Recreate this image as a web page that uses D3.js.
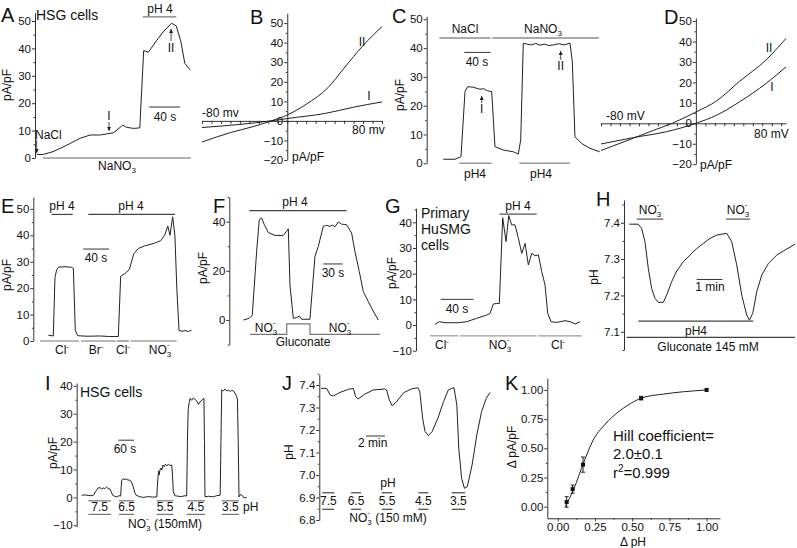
<!DOCTYPE html>
<html>
<head>
<meta charset="utf-8">
<script src="https://cdn.jsdelivr.net/npm/d3@7"></script>
<style>
  body { margin: 0; background: #fff; }
  text { font-family: "Liberation Sans", Arial, sans-serif; fill: #111; }
  .tick text { font-size: 11.5px; }
  .tick line, .domain { stroke: #333; }
  .letter { font-size: 20px; }
</style>
</head>
<body>
<svg id="fig" width="797" height="548"></svg>
<script>
// ---- data ----
// A: whole-cell current (pA/pF) vs time (s)
var traceA = [[0,1.3],[8.5,1.3],[21,2.3],[39,4.7],[56,7.2],[69,8.4],[82,8.4],[99,9.2],[111,12],[116,11.2],[125,10.8],[133,11],
  [138,39.2],[144,38.6],[155,43],[163,46],[174,49.2],[180,48.2],[186,42.5],[191,34.6],[198,32.1]];
// B: I-V curves (mV, pA/pF)
var ivB1 = [[-90,-3.4],[-50,-1.8],[-17,0],[0,1.2],[40,3.8],[70,7],[100,9.7]];
var ivB2 = [[-90,-10.8],[-60,-6],[-35,-2.8],[-17,0],[0,3],[20,8.5],[43,17],[60,27],[80,38.5],[100,48.2]];
// C
var traceC = [[0,1.4],[17.7,1.4],[26.8,2.3],[32.9,24.9],[37,26.6],[45.5,26.4],[55.6,25.7],[61,25.9],[66.7,25.2],[73.3,24.9],
  [78.3,5.8],[90.9,4.6],[106,4.0],[113.6,3.2],[117.3,8.1],[121.2,41.7],[126.4,41.4],[134,41.1],[140,41.6],[146.5,41],[153,41.4],
  [160,40.9],[166.7,41.1],[175,41.5],[183,41.1],[192,41.7],[195.5,35.3],[199.5,9.2],[209.7,6.9],[222.3,5.2],[237,4.0]];
// D
var ivD1 = [[-100,-10.1],[-66,-7],[-31,-4.1],[0,0],[22,4],[46,10.5],[74,19.5],[95,27.6]];
var ivD2 = [[-100,-13.3],[-66,-7.3],[-45,-3.5],[-25,0],[0,5.5],[22,11],[46,20.5],[74,31],[95,41.5]];
// E
var traceE = [[0,2.2],[7.8,1.9],[10.4,24],[13,27],[16,28],[26,28.1],[36,27.9],[39,27.5],[42,4],[46,2],[60,1.8],[80,1.9],[95,1.7],[109,1.7],
  [112.6,24.5],[119,25.5],[126,27],[133,33],[140,35],[150,36],[165,37],[175,38],[181,40],[186,43.5],[189.4,40],[193.5,47],[197,40],
  [200,20],[203.4,4],[208,3.7],[213,3.9],[218,3.6],[223,4.1]];
// F
var traceF = [[0,0],[9.3,0.7],[13.9,2],[20.6,27.9],[24.7,40.8],[28.3,41.5],[32.5,38.8],[38.6,35.6],[49,34.4],[61.8,34.4],[67,36.1],[69.6,37.1],
  [72.1,14.3],[77.3,0.7],[82.4,1],[86.6,1.6],[90.2,0.3],[103,0.3],[110.8,25.9],[115.9,29.9],[123.6,38.1],[128.8,38.5],[134,38.1],[138.1,38.6],
  [141.7,37.9],[146.8,39.9],[152,39],[159.7,38.8],[167.4,35.4],[172.6,27.9],[179.3,19.7],[185.5,11.6],[193.2,7.5],[199.9,4.1],[208.7,0]];
// G
var traceG = [[0,0.3],[5.3,1.3],[12.2,0.9],[28.6,0.9],[38.8,1.3],[51,2.6],[63.2,3.9],[67.3,4.5],[71.4,8.2],[75.5,8.4],[78.7,8.4],
  [82.8,41.8],[86.9,32.5],[90.2,42.6],[93.8,39],[97.9,39],[102,33.8],[106.1,27.9],[110.2,31.8],[114.2,23.4],[118.3,27.9],[122.4,27],
  [126.5,27.3],[130.6,20.8],[134.6,15.6],[137.9,4.5],[142,1.3],[148.9,1],[159.1,1.7],[165.2,1.3],[171.4,0.4],[177.5,1.3]];
// H: intracellular pH vs time (s)
var traceH = [[0,7.396],[21,7.396],[28.8,7.384],[36.6,7.348],[44.4,7.274],[52.2,7.219],[60,7.192],[67.8,7.181],[79.4,7.181],[87.2,7.201],
  [98.9,7.238],[110.6,7.267],[126.2,7.293],[141.7,7.311],[157.3,7.329],[172.9,7.343],[188.5,7.357],[204,7.366],[227.4,7.371],[239.1,7.348],
  [250.8,7.284],[262.5,7.201],[274.1,7.146],[280.4,7.132],[288.2,7.151],[297.5,7.21],[309.2,7.256],[324.8,7.288],[344.2,7.311],
  [363.7,7.325],[387.1,7.341]];
// I
var traceI = [[0,0.8],[12,0.9],[25,0.7],[40,0.6],[47,1],[52,2],[57,2.6],[63,3.4],[70,3.5],[76,3.0],[82,3.4],[88,3.1],[95,3.7],[101,3.2],
  [108,3.0],[113,2],[118,0.8],[126,0.4],[134,0.2],[142,0.6],[149,0.5],[151,4],[153,6.2],[158,6.7],[164,6.4],[170,6.6],[177,6.2],[184,6.2],
  [190,5.5],[197,3.8],[203,1.6],[208,0.8],[220,0.3],[236,0],[255,0.3],[270,0.1],[287,0.2],[289,4],[291,6.8],[294,9.5],[296,8],[299,9.8],
  [303,10.5],[306,9.8],[310,11.6],[315,11],[320,11.9],[326,11.3],[331,11.9],[337,11.4],[344,11.6],[347,8],[350,2],[356,0.6],[363,0.5],
  [380,0.3],[395,0.6],[401,0.5],[404,20],[407,31.9],[411,34],[414,35.5],[420,34.8],[426,35.6],[433,35.1],[440,34.5],[446,33.3],[452,34.2],
  [459,34.9],[464,35.2],[467,35.5],[469,20],[471,0.2],[485,0.4],[503,0.2],[515,0.6],[529,0.8],[532,20],[535,38.5],[541,38.2],[548,38.8],
  [555,38.1],[561,38.5],[567,37.9],[573,38.4],[580,38.1],[587,37.2],[592,36.2],[595,34.9],[598,20],[601,0.2],[606,1],[612,0.8],[620,-0.2],[630,0]];
var pHLabels = ["7.5", "6.5", "5.5", "4.5", "3.5"];
var barsI = [[25.2,112],[142.5,201],[286.6,350],[401.2,471.2],[535,601]];
// J: pH vs time (min)
var traceJ = [[0,7.385],[0.6,7.385],[0.95,7.356],[1.3,7.351],[2,7.367],[2.9,7.381],[3.4,7.385],[3.65,7.348],[3.9,7.338],[4.6,7.359],
  [5.5,7.378],[6.7,7.382],[6.9,7.378],[7.2,7.333],[7.5,7.307],[7.96,7.326],[8.7,7.366],[9.5,7.382],[10.2,7.388],[10.4,7.37],[10.7,7.252],
  [10.95,7.193],[11.3,7.175],[11.7,7.193],[12.3,7.252],[12.9,7.326],[13.4,7.378],[13.75,7.385],[14,7.388],[14.3,7.311],[14.5,7.119],
  [14.8,6.985],[15.1,6.941],[15.4,6.948],[15.9,7.044],[16.4,7.178],[16.9,7.281],[17.4,7.341],[17.8,7.367]];
var barsJ = [[0.14,1.4],[3.16,4.21],[6.39,7.51],[10.24,11.29],[13.76,15.16]];
// K: dose response
var kDpH = [0.06, 0.10, 0.17, 0.56, 1.0];
var kResp = [0.04, 0.15, 0.36, 0.93, 1.0];
var kErr = [0.045, 0.035, 0.065, 0.015, 0];
var fitX = [0.05, 0.108, 0.175, 0.242, 0.309, 0.376, 0.466, 0.563, 0.712, 0.847, 1.0];
var fitY = [0, 0.151, 0.38, 0.58, 0.693, 0.779, 0.865, 0.931, 0.965, 0.985, 1.0];

// ---- drawing ----
var svg = d3.select("#fig");
svg.append("rect").attr("width", 797).attr("height", 548).attr("fill", "#fff");

svg.append("defs").append("marker")
  .attr("id", "ah").attr("viewBox", "0 -3 6 6").attr("refX", 6).attr("refY", 0)
  .attr("markerWidth", 5).attr("markerHeight", 5).attr("orient", "auto")
  .append("path").attr("d", "M0,-3L6,0L0,3Z").attr("fill", "#222");

function range(a, b, s) { return d3.range(a, b + s / 2, s).map(v => +v.toFixed(4)); }

function leftAxis(y, x, major, minor, fmt) {
  var g = svg.append("g").attr("transform", "translate(" + x + ",0)");
  g.call(d3.axisLeft(y).tickValues(major).tickSize(3).tickSizeOuter(0).tickPadding(1)
    .tickFormat(fmt || d3.format("d")));
  if (minor) {
    g.append("g").call(d3.axisLeft(y).tickValues(minor).tickSize(1.5).tickFormat(""))
      .select(".domain").remove();
  }
  return g;
}

function letter(s, x, y) {
  svg.append("text").attr("class", "letter").attr("x", x).attr("y", y).text(s);
}

function txt(x, y, s, size, anchor) {
  return svg.append("text").attr("x", x).attr("y", y)
    .attr("text-anchor", anchor || "middle").style("font-size", (size || 12) + "px").text(s);
}

function ylabel(x, y, s, size) {
  return svg.append("text").attr("transform", "translate(" + x + "," + y + ") rotate(-90)")
    .attr("text-anchor", "middle").style("font-size", (size || 12) + "px").text(s);
}

function hbar(xs, ys, t1, t2, v, color, w) {
  svg.append("line").attr("x1", xs(t1)).attr("x2", xs(t2)).attr("y1", ys(v)).attr("y2", ys(v))
    .attr("stroke", color || "#333").attr("stroke-width", w || 1);
}

function arrow(xs, ys, t, v1, v2) {
  svg.append("line").attr("x1", xs(t)).attr("x2", xs(t)).attr("y1", ys(v1)).attr("y2", ys(v2))
    .attr("stroke", "#222").attr("stroke-width", 0.8).attr("marker-end", "url(#ah)");
}

function trace(data, xs, ys, curve) {
  var line = d3.line().x(d => xs(d[0])).y(d => ys(d[1]));
  if (curve) line.curve(curve);
  svg.append("path").datum(data).attr("d", line)
    .attr("fill", "none").attr("stroke", "#222").attr("stroke-width", 1);
}

function no3(x, y, anchor, size, tail) {
  var t = svg.append("text").attr("x", x).attr("y", y).attr("text-anchor", anchor || "middle")
    .style("font-size", (size || 12) + "px").attr("xml:space", "preserve");
  t.append("tspan").text("NO");
  t.append("tspan").attr("dy", 3).style("font-size", "8px").text("3");
  t.append("tspan").attr("dx", -4.5).attr("dy", -10).style("font-size", "8px").text("-");
  if (tail) t.append("tspan").attr("dx", 2).attr("dy", 7).text(" " + tail);
  return t;
}

function cl(x, y, s) {
  var t = svg.append("text").attr("x", x).attr("y", y).attr("text-anchor", "middle").style("font-size", "12px");
  t.append("tspan").text(s);
  t.append("tspan").attr("dy", -5).style("font-size", "8px").text("-");
}

// ===== Panel A =====
var xA = d3.scaleLinear().domain([0, 198]).range([36.7, 190.2]);
var yA = d3.scaleLinear().domain([0, 53]).range([158, 12.8]);
leftAxis(yA, 35, range(0, 50, 10), range(5, 45, 10));
trace(traceA, xA, yA);
letter("A", 1, 22);
txt(36, 20, "HSG cells", 14, "start");
ylabel(11, 85, "pA/pF");
hbar(xA, yA, 8, 199, 0, "#999", 1.5);
var tNa = txt(117, 170, "NaNO", 12);
tNa.append("tspan").attr("dy", 3).style("font-size", "8px").text("3");
hbar(xA, yA, 137, 180, 51.5, "#777", 1.3);
txt(160, 13, "pH 4", 12);
hbar(xA, yA, 145, 185, 18.6, "#333", 1);
txt(165, 121, "40 s", 12);
txt(35, 139, "NaCl", 12, "start");
arrow(xA, yA, 0, 6.6, 1.8);
txt(109, 120, "I", 12);
arrow(xA, yA, 93.3, 13.1, 9.9);
txt(171, 52, "II", 12);
arrow(xA, yA, 173.3, 42.7, 47.1);

// ===== Panel B =====
var xB = d3.scaleLinear().domain([-90, 100]).range([202, 382]);
var yB = d3.scaleLinear().domain([-20, 55]).range([160, 13.3]);
leftAxis(yB, xB(0), range(-20, 50, 10), range(-15, 45, 10));
svg.append("g").attr("transform", "translate(0," + yB(0) + ")")
  .call(d3.axisBottom(xB).tickValues(range(-90, 100, 10)).tickSize(3).tickSizeOuter(0).tickFormat(""));
trace(ivB1, xB, yB, d3.curveMonotoneX);
trace(ivB2, xB, yB, d3.curveMonotoneX);
letter("B", 250, 24);
txt(202, 117, "-80 mv", 12, "start");
txt(352, 134, "80 mv", 12, "start");
txt(292, 161, "pA/pF", 12, "start");
txt(362, 46, "II", 12);
txt(369, 100, "I", 12);

// ===== Panel C =====
var xC = d3.scaleLinear().domain([0, 237]).range([443.3, 599.7]);
var yC = d3.scaleLinear().domain([0, 51]).range([163.3, 16.4]);
leftAxis(yC, 426.7, range(0, 50, 10), range(5, 45, 10));
trace(traceC, xC, yC);
letter("C", 392, 23);
ylabel(404, 95, "pA/pF");
hbar(xC, yC, -6, 71.8, 43.5, "#555", 1.2);
hbar(xC, yC, 74.2, 236, 43.5, "#555", 1.2);
txt(465, 33, "NaCl", 12);
var tC = txt(543, 33, "NaNO", 12);
tC.append("tspan").attr("dy", 3).style("font-size", "8px").text("3");
hbar(xC, yC, 24.2, 73.3, 0, "#999", 1.5);
hbar(xC, yC, 115.2, 192, 0, "#999", 1.5);
txt(475, 178, "pH4", 12);
txt(541, 178, "pH4", 12);
hbar(xC, yC, 31.8, 71.8, 38.5, "#333", 1);
txt(477, 66, "40 s", 12);
txt(481.7, 113, "I", 12);
arrow(xC, yC, 58.2, 20.9, 23.4);
txt(560.7, 70, "II", 12);
arrow(xC, yC, 177.9, 35.9, 39);

// ===== Panel D =====
var xD = d3.scaleLinear().domain([-100, 95]).range([601, 786]);
var yD = d3.scaleLinear().domain([-20, 51.5]).range([164.2, 18]);
leftAxis(yD, xD(0), range(-20, 50, 10), range(-15, 45, 10));
svg.append("g").attr("transform", "translate(0," + yD(0) + ")")
  .call(d3.axisBottom(xD).tickValues(range(-100, 90, 10)).tickSize(3).tickSizeOuter(0).tickFormat(""));
trace(ivD1, xD, yD, d3.curveMonotoneX);
trace(ivD2, xD, yD, d3.curveMonotoneX);
letter("D", 664, 24);
txt(606, 120, "-80 mV", 12, "start");
txt(754, 138, "80 mV", 12, "start");
txt(700, 169, "pA/pF", 12, "start");
txt(769, 52, "II", 12);
txt(772, 91, "I", 12);

// ===== Panel E =====
var xE = d3.scaleLinear().domain([0, 223]).range([48.3, 191.6]);
var yE = d3.scaleLinear().domain([0, 54.5]).range([341, 197]);
leftAxis(yE, 33.3, range(0, 50, 10), range(5, 45, 10));
trace(traceE, xE, yE);
letter("E", 1, 213);
ylabel(11, 275, "pA/pF");
hbar(xE, yE, 5.3, 38, 47.9, "#444", 1.2);
hbar(xE, yE, 62.3, 197.2, 47.9, "#444", 1.2);
txt(62, 210, "pH 4", 12);
txt(131, 210, "pH 4", 12);
hbar(xE, yE, 54.5, 94.5, 34.8, "#333", 1);
txt(96, 262, "40 s", 12);
[[-12.9, 47.8], [50.9, 104.9], [106.5, 125.6], [128.2, 199.8]].forEach(s => hbar(xE, yE, s[0], s[1], 0, "#777", 1.2));
cl(62, 354, "Cl");
cl(96, 354, "Br");
cl(123, 354, "Cl");
no3(160, 354);

// ===== Panel F =====
var xF = d3.scaleLinear().domain([0, 208.7]).range([243.3, 378.3]);
var yF = d3.scaleLinear().domain([-10, 50]).range([344.6, 197.1]);
leftAxis(yF, 229.3, [0, 20, 40], [-10, 10, 30, 50]);
trace(traceF, xF, yF);
letter("F", 213, 213);
ylabel(207, 268, "pA/pF");
hbar(xF, yF, 9.3, 159.8, 44.5, "#444", 1.2);
txt(295, 206, "pH 4", 12);
hbar(xF, yF, 123.6, 153.6, 22.8, "#333", 1);
txt(333, 277, "30 s", 12);
var glu = [[10.4, -5.8], [67.1, -5.8], [67.1, -1.6], [103.1, -1.6], [103.1, -5.8], [211.3, -5.8]];
svg.append("path").datum(glu).attr("d", d3.line().x(d => xF(d[0])).y(d => yF(d[1])))
  .attr("fill", "none").attr("stroke", "#777").attr("stroke-width", 1.2);
no3(266, 332);
no3(340, 332);
txt(303, 346, "Gluconate", 12);

// ===== Panel G =====
var xG = d3.scaleLinear().domain([0, 177.5]).range([435, 580.1]);
var yG = d3.scaleLinear().domain([-10, 45.5]).range([350.7, 208.2]);
leftAxis(yG, 416, range(-10, 40, 10), range(-5, 45, 10));
trace(traceG, xG, yG);
letter("G", 385, 213);
ylabel(396, 273, "pA/pF");
txt(421, 218, "Primary", 14, "start");
txt(421, 234, "HuSMG", 14, "start");
txt(421, 250, "cells", 14, "start");
hbar(xG, yG, 78.7, 124.4, 43.2, "#555", 1.2);
txt(518, 210, "pH 4", 12);
hbar(xG, yG, 7, 47, 10, "#333", 1);
txt(457, 313, "40 s", 12);
[[-6.1, 28.5], [30.6, 124.4], [126.4, 179.4]].forEach(s => hbar(xG, yG, s[0], s[1], -4.2, "#999", 1.2));
cl(442, 349, "Cl");
no3(500, 349);
cl(558, 349, "Cl");

// ===== Panel H =====
var xH = d3.scaleLinear().domain([0, 388]).range([629.3, 795.5]);
var yH = d3.scaleLinear().domain([7.05, 7.4625]).range([350, 200]);
leftAxis(yH, 624, [7.1, 7.2, 7.3, 7.4], [7.05, 7.15, 7.25, 7.35, 7.45], d3.format(".1f"));
trace(traceH, xH, yH);
letter("H", 596, 206);
ylabel(598, 277, "pH");
hbar(xH, yH, 17.3, 79.4, 7.41, "#555", 1.2);
hbar(xH, yH, 225.8, 281.8, 7.41, "#555", 1.2);
no3(650, 214);
no3(738, 214);
hbar(xH, yH, 157.4, 217.4, 7.244, "#333", 1);
txt(710, 291, "1 min", 12);
hbar(xH, yH, 21, 289.5, 7.1294, "#444", 1.2);
txt(696, 335, "pH4", 12);
hbar(xH, yH, -6.1, 386.9, 7.0846, "#444", 1.2);
txt(708, 351, "Gluconate 145 mM", 12);

// ===== Panel I =====
var xI = d3.scaleLinear().domain([0, 630]).range([81.7, 246.6]);
var yI = d3.scaleLinear().domain([-10.5, 41]).range([526.7, 383]);
leftAxis(yI, 76.7, range(-10, 40, 10), range(-5, 35, 10));
trace(traceI, xI, yI);
letter("I", 45, 390);
ylabel(57, 453, "pA/pF");
txt(80, 397, "HSG cells", 14, "start");
hbar(xI, yI, 139.9, 199.9, 20.5, "#333", 1);
txt(125, 453, "60 s", 12);
barsI.forEach(function (b, i) {
  hbar(xI, yI, b[0], b[1], -1.22, "#777", 1.2);
  hbar(xI, yI, b[0], b[1], -6.09, "#777", 1.2);
  txt((xI(b[0]) + xI(b[1])) / 2, 511, pHLabels[i], 12);
});
txt(243, 511, "pH", 12, "start");
no3(165, 528, "middle", 12, "(150mM)");

// ===== Panel J =====
var xJ = d3.scaleLinear().domain([0, 17.8]).range([321, 490.1]);
var yJ = d3.scaleLinear().domain([6.8, 7.4475]).range([520, 374.3]);
leftAxis(yJ, 319.3, range(6.8, 7.4, 0.1), range(6.85, 7.45, 0.1), d3.format(".1f"));
trace(traceJ, xJ, yJ);
letter("J", 282, 390);
ylabel(293, 452, "pH");
hbar(xJ, yJ, 4.74, 6.74, 7.1733, "#333", 1);
txt(358, 447, "2 min", 12, "start");
barsJ.forEach(function (b, i) {
  hbar(xJ, yJ, b[0], b[1], 6.921, "#444", 1.2);
  hbar(xJ, yJ, b[0], b[1], 6.8476, "#444", 1.2);
  txt((xJ(b[0]) + xJ(b[1])) / 2, 505, pHLabels[i], 12);
});
txt(388, 487, "pH", 12);
no3(388, 522, "middle", 12, "(150 mM)");

// ===== Panel K =====
var xK = d3.scaleLinear().domain([-0.07, 1.09]).range([547.3, 720]);
var yK = d3.scaleLinear().domain([-0.1, 1.1]).range([518.3, 378.3]);
leftAxis(yK, 547.3, range(0, 1, 0.25), range(0.125, 0.875, 0.25), d3.format(".2f"));
var gx = svg.append("g").attr("transform", "translate(0," + 518.3 + ")");
gx.call(d3.axisBottom(xK).tickValues(range(0, 1, 0.25)).tickSize(3).tickSizeOuter(0).tickPadding(2).tickFormat(d3.format(".2f")));
gx.append("g").call(d3.axisBottom(xK).tickValues(range(0.125, 0.875, 0.25)).tickSize(1.5).tickFormat(""))
  .select(".domain").remove();
var fit = fitX.map((x, i) => [x, fitY[i]]);
trace(fit, xK, yK, d3.curveMonotoneX);
kDpH.forEach(function (x, i) {
  var cx = xK(x);
  if (kErr[i] > 0) {
    svg.append("line").attr("x1", cx).attr("x2", cx).attr("y1", yK(kResp[i] - kErr[i])).attr("y2", yK(kResp[i] + kErr[i])).attr("stroke", "#222");
    [kResp[i] - kErr[i], kResp[i] + kErr[i]].forEach(v => svg.append("line")
      .attr("x1", cx - 2).attr("x2", cx + 2).attr("y1", yK(v)).attr("y2", yK(v)).attr("stroke", "#222"));
  }
  svg.append("rect").attr("x", cx - 2).attr("y", yK(kResp[i]) - 2).attr("width", 4).attr("height", 4).attr("fill", "#111");
});
letter("K", 505, 390);
ylabel(516, 447, "\u0394 pA/pF");
txt(633, 546, "\u0394 pH", 12);
txt(613, 441, "Hill coefficient=", 15, "start");
txt(613, 459, "2.0\u00b10.1", 15, "start");
var r2 = txt(613, 478, "r", 15, "start");
r2.append("tspan").attr("dy", -6).style("font-size", "10px").text("2");
r2.append("tspan").attr("dy", 6).text("=0.999");
</script>
</body>
</html>
